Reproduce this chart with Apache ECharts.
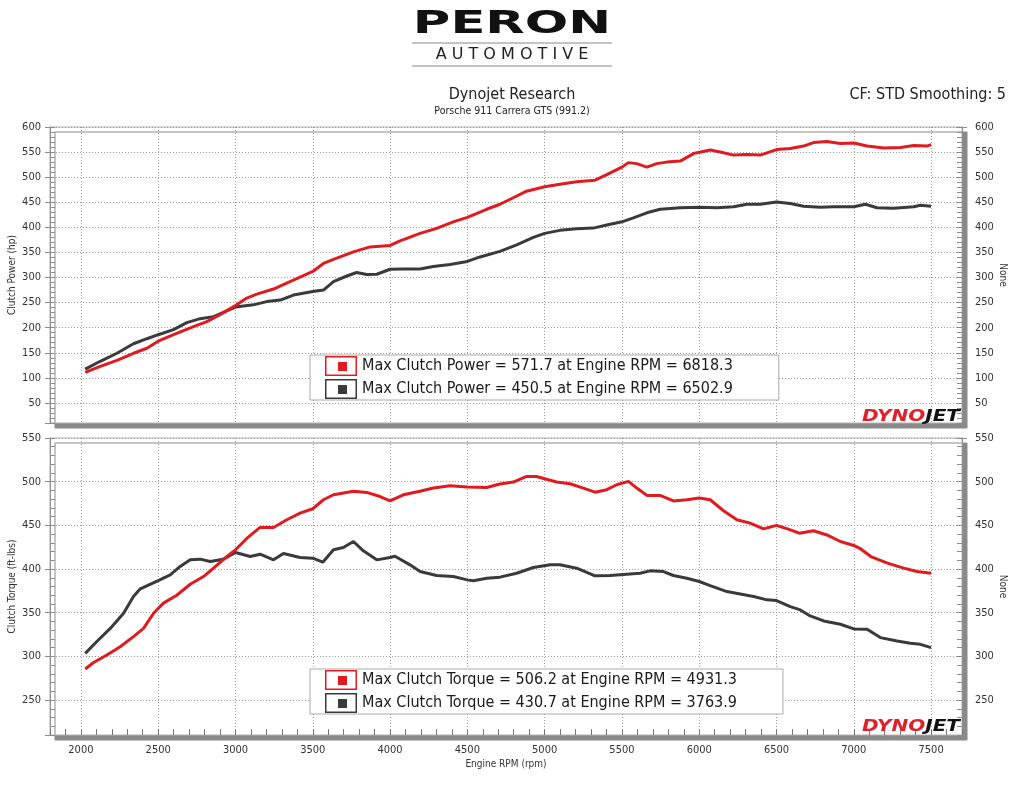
<!DOCTYPE html>
<html><head><meta charset="utf-8">
<script src="https://cdn.jsdelivr.net/npm/echarts@6/dist/echarts.min.js"></script>
<style>html,body{margin:0;padding:0;background:#fff}#c{width:1024px;height:791px}</style>
</head><body><div id="c"></div>
<script>
// ---- data ----
const powerRedRpm = [2028,2125,2233,2340,2427,2500,2599,2728,2815,2900,3000,3073,3138,3246,3353,3500,3569,3634,3763,3870,4000,4065,4194,4301,4409,4500,4625,4711,4797,4883,5000,5099,5207,5326,5402,5500,5542,5596,5661,5725,5790,5877,5963,6071,6136,6222,6308,6395,6500,6589,6675,6740,6826,6913,7000,7086,7194,7302,7388,7474,7500];
const powerRed = [111,123,135,149,159,173,186,202,212,226,244,259,267,277,292,312,328,336,351,361,364,373,388,398,411,420,436,446,459,472,481,486,491,494,505,520,529,527,520,527,530,532,547,554,550,544,545,544,555,557,562,569,571,567,568,562,558,559,563,562,565];
const powerDarkRpm = [2028,2125,2233,2340,2427,2500,2599,2685,2772,2858,3000,3116,3202,3289,3375,3500,3569,3634,3720,3784,3849,3914,4000,4086,4194,4280,4388,4500,4582,4711,4819,4927,5000,5099,5207,5315,5402,5500,5574,5661,5747,5877,6000,6114,6222,6308,6395,6500,6589,6675,6783,6870,7000,7075,7150,7258,7388,7431,7500];
const powerDark = [117.5,133,149,168,178,186,196,210,218,222,241,245.5,252,255,265,272,275,292,303,310,306,306.5,316.5,317,317,322,326,332,341,352,365,380,388,394,397,398.5,404.5,411,419,429,436,439,440,439,441,446,446,450.5,447.5,442,440,441,441,446,439,438,441,444,442];
const torqueRedRpm = [2028,2082,2168,2254,2340,2405,2470,2534,2620,2707,2793,2858,2944,3000,3073,3159,3246,3332,3418,3500,3569,3634,3763,3849,3935,4000,4086,4194,4280,4388,4500,4625,4711,4797,4883,4948,5000,5078,5164,5250,5326,5402,5466,5542,5596,5661,5747,5833,5920,6000,6071,6157,6244,6330,6416,6500,6571,6647,6740,6826,6913,7000,7045,7110,7218,7323,7409,7500];
const torqueRed = [285.6,293,301.6,311,322.6,332,349.4,361,370,382.6,391.4,401,414.3,422,435,447.6,447.6,456.4,464,469,479.3,485,489,487.7,483,478,485,489,492.7,495.4,494,493.4,497.3,499.6,506,506,503.4,499.6,497.6,492.7,488,490.8,496.5,500.3,492.7,484.3,484.3,478,479.3,481.2,479.3,466.7,456.4,452.6,446,450,446,441,443.8,439,431.5,427,423,414.3,406.7,401,397.2,395.2];
const torqueDarkRpm = [2028,2103,2190,2276,2340,2384,2500,2578,2642,2707,2772,2836,2922,3000,3095,3159,3246,3310,3418,3500,3565,3634,3698,3763,3827,3914,4000,4032,4129,4194,4301,4409,4500,4539,4625,4711,4819,4927,5035,5099,5207,5326,5423,5531,5617,5682,5769,5833,5920,6000,6071,6179,6265,6352,6438,6500,6589,6654,6718,6805,6913,7000,7086,7172,7280,7366,7431,7500];
const torqueDark = [303.5,317,332,349.4,368.5,377.3,386.8,393.3,403,410.5,411.3,408.6,411.3,419,414.3,417,410.5,417.8,413.2,412.4,407.8,422,424.7,431.5,420.8,410.5,413.2,414.7,404.8,397.2,392.6,391.4,387.6,386.5,389.5,390.7,395.2,401.7,404.8,404.8,401,392.2,392.6,394.1,395.2,397.9,397.1,392.6,389.5,385.7,381.1,374.2,371.5,368.5,364.7,363.9,357,353.2,346.3,340.6,336.8,331.4,331,321.5,317.7,315,313.8,310];

const legendPower = ['Max Clutch Power = 571.7 at Engine RPM = 6818.3', 'Max Clutch Power = 450.5 at Engine RPM = 6502.9'];
const legendTorque = ['Max Clutch Torque = 506.2 at Engine RPM = 4931.3', 'Max Clutch Torque = 430.7 at Engine RPM = 3763.9'];
const rpmTickLabels = [2000,2500,3000,3500,4000,4500,5000,5500,6000,6500,7000,7500];
const powerTickLabels = [50,100,150,200,250,300,350,400,450,500,550,600];
const torqueTickLabels = [250,300,350,400,450,500,550];

// ---- styling ----
const RED = '#e01a1f', DARK = '#3a3a3a';
const FONT = '"DejaVu Sans Condensed", "DejaVu Sans", sans-serif';
const ICON = 'path://M0,0 H32 V20 H0 Z M1.5,1.5 V18.5 H30.5 V1.5 Z M13,6 H22 V15 H13 Z';
function pairs(x, y) { return x.map((v, i) => [v, y[i]]); }

const gridBase = { left: 50, width: 912, show: true, outerBoundsMode: 'none', containLabel: false,
  backgroundColor: '#fff', borderColor: '#b4b4b4', borderWidth: 1,
  shadowColor: '#8a8a8a', shadowBlur: 0, shadowOffsetX: 5, shadowOffsetY: 5 };
const dotted = { show: true, lineStyle: { color: '#9a9a9a', width: 1, type: [1, 2] } };
const lblStyle = { color: '#333', fontSize: 11, fontFamily: FONT };
const nameStyle = { color: '#333', fontSize: 10, fontFamily: FONT };

function mainY(grid, min, max, split, labels, pos, name) {
  return { gridIndex: grid, type: 'value', position: pos, min: min, max: max, splitNumber: split,
    axisLine: { show: true, lineStyle: { color: '#8c8c8c' } },
    axisTick: { show: true, inside: false, length: 5, lineStyle: { color: '#8c8c8c' } },
    axisLabel: Object.assign({ margin: pos === 'left' ? 9 : 13, formatter: v => labels.includes(v) ? String(v) : '' }, lblStyle),
    splitLine: pos === 'left' ? dotted : { show: false },
    name: name, nameLocation: 'middle', nameRotate: pos === 'left' ? 90 : -90, nameMoveOverlap: false,
    nameGap: pos === 'left' ? 33 : 36, nameTextStyle: nameStyle };
}
function tickY(grid, min, max, pos) {
  return { gridIndex: grid, type: 'value', position: pos, min: min, max: max, interval: 10,
    axisLine: { show: false }, axisLabel: { show: false }, splitLine: { show: false },
    axisTick: { show: true, inside: true, length: 5, lineStyle: { color: '#8c8c8c' } } };
}
function mainX(grid, showLabels) {
  return { gridIndex: grid, type: 'value', position: 'bottom', min: 1800, max: 7700, splitNumber: 12,
    axisLine: { show: false }, axisTick: { show: false },
    axisLabel: Object.assign({ show: showLabels, margin: 10, formatter: v => rpmTickLabels.includes(v) ? String(v) : '' }, lblStyle),
    splitLine: dotted, nameMoveOverlap: false,
    name: showLabels ? 'Engine RPM (rpm)' : '', nameLocation: 'middle', nameGap: 24, nameTextStyle: nameStyle };
}
function line(name, xi, yi, data, color, z) {
  return { type: 'line', name: name, xAxisIndex: xi, yAxisIndex: yi, data: data, showSymbol: false, symbol: 'none',
    lineStyle: { color: color, width: 3 }, itemStyle: { color: color }, z: z, animation: false };
}
function legend(top, names) {
  return { orient: 'vertical', left: 310, top: top, selectedMode: false, backgroundColor: '#fff',
    borderColor: '#aaaaaa', borderWidth: 1, padding: [1, 46, 1, 15], itemGap: 3, itemWidth: 32, itemHeight: 20,
    textStyle: { fontSize: 16, color: '#1a1a1a', fontFamily: FONT },
    data: [
      { name: names[0], icon: ICON, itemStyle: { color: RED, borderWidth: 0 } },
      { name: names[1], icon: ICON, itemStyle: { color: DARK, borderWidth: 0 } }
    ] };
}
function dynojet(y) {
  const f = { fontSize: 16, fontWeight: 900, fontStyle: 'italic', fontFamily: '"DejaVu Sans", sans-serif' };
  return { type: 'text', x: 960, y: y, scaleX: 1.25, z: 100,
    style: { text: '{a|DYNO}{b|JET}', align: 'right', verticalAlign: 'middle', textAlign: 'right', textVerticalAlign: 'middle',
      rich: { a: Object.assign({ fill: '#e3202a', color: '#e3202a' }, f), b: Object.assign({ fill: '#111', color: '#111' }, f) } } };
}

const chart = echarts.init(document.getElementById('c'), null, { renderer: 'canvas' });
chart.setOption({
  animation: false,
  backgroundColor: '#fff',
  title: [
    { text: 'Dynojet Research', subtext: 'Porsche 911 Carrera GTS (991.2)', left: 'center', top: 87, padding: 0, itemGap: 3,
      textStyle: { fontSize: 16, fontWeight: 'normal', color: '#222', fontFamily: FONT },
      subtextStyle: { fontSize: 10.5, color: '#222', fontFamily: FONT } },
    { text: 'CF: STD Smoothing: 5', right: 18, top: 87, padding: 0,
      textStyle: { fontSize: 16, fontWeight: 'normal', color: '#222', fontFamily: FONT } }
  ],
  grid: [
    Object.assign({ top: 127, height: 296 }, gridBase),
    Object.assign({ top: 438, height: 297 }, gridBase)
  ],
  xAxis: [
    mainX(0, false),
    mainX(1, true),
    { gridIndex: 1, type: 'value', position: 'bottom', min: 1800, max: 7700, interval: 100,
      axisLine: { show: false }, axisLabel: { show: false }, splitLine: { show: false },
      axisTick: { show: true, inside: true, length: 6, lineStyle: { color: '#777' } } }
  ],
  yAxis: [
    mainY(0, 10, 600, 12, powerTickLabels, 'left', 'Clutch Power (hp)'),
    mainY(0, 10, 600, 12, powerTickLabels, 'right', 'None'),
    tickY(0, 10, 600, 'left'),
    tickY(0, 10, 600, 'right'),
    mainY(1, 210, 550, 7, torqueTickLabels, 'left', 'Clutch Torque (ft-lbs)'),
    mainY(1, 210, 550, 7, torqueTickLabels, 'right', 'None'),
    tickY(1, 210, 550, 'left'),
    tickY(1, 210, 550, 'right')
  ],
  legend: [legend(355, legendPower), legend(669, legendTorque)],
  series: [
    line(legendPower[1], 0, 0, pairs(powerDarkRpm, powerDark), DARK, 3),
    line(legendPower[0], 0, 0, pairs(powerRedRpm, powerRed), RED, 4),
    line(legendTorque[1], 1, 4, pairs(torqueDarkRpm, torqueDark), DARK, 3),
    line(legendTorque[0], 1, 4, pairs(torqueRedRpm, torqueRed), RED, 4)
  ],
  graphic: [
    { type: 'text', x: 512, y: 24.5, scaleX: 1.6, style: { text: 'PERON', align: 'center', verticalAlign: 'middle', textAlign: 'center', textVerticalAlign: 'middle',
      fill: '#111', fontSize: 32, fontWeight: 'bold', fontFamily: '"DejaVu Sans", sans-serif' } },
    { type: 'line', shape: { x1: 412, y1: 43, x2: 612, y2: 43 }, style: { stroke: '#b0b0b0', lineWidth: 1.5 } },
    { type: 'text', x: 512, y: 54.5, style: { text: 'A U T O M O T I V E', align: 'center', verticalAlign: 'middle', textAlign: 'center', textVerticalAlign: 'middle',
      fill: '#222', fontSize: 16, fontFamily: '"DejaVu Sans", sans-serif' } },
    { type: 'line', shape: { x1: 412, y1: 66, x2: 612, y2: 66 }, style: { stroke: '#b0b0b0', lineWidth: 1.5 } },
    dynojet(416.5),
    dynojet(727)
  ]
});
</script>
</body></html>
